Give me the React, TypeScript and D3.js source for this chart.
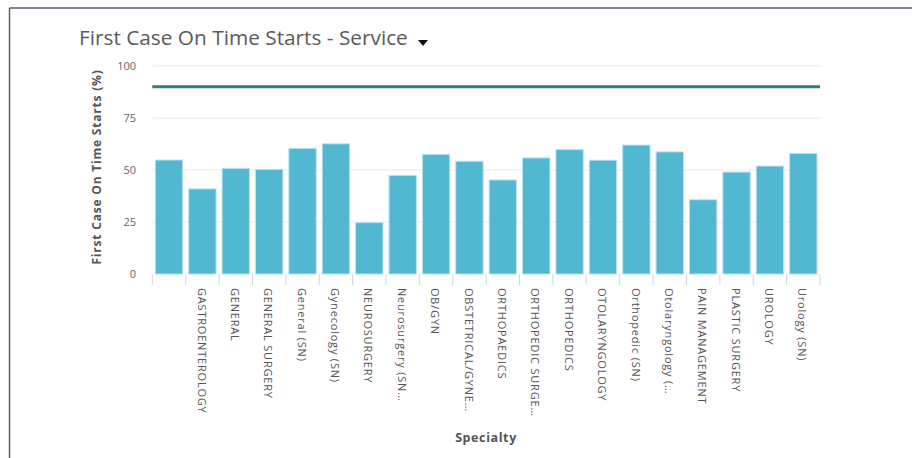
import React from "react";
import * as d3 from "d3";

const categories: string[] = [
  "",
  "GASTROENTEROLOGY",
  "GENERAL",
  "GENERAL SURGERY",
  "General (SN)",
  "Gynecology (SN)",
  "NEUROSURGERY",
  "Neurosurgery (SN…",
  "OB/GYN",
  "OBSTETRICAL/GYNE…",
  "ORTHOPAEDICS",
  "ORTHOPEDIC SURGE…",
  "ORTHOPEDICS",
  "OTOLARYNGOLOGY",
  "Orthopedic (SN)",
  "Otolaryngology (…",
  "PAIN MANAGEMENT",
  "PLASTIC SURGERY",
  "UROLOGY",
  "Urology (SN)",
];

const values: number[] = [
  54.8, 40.9, 50.8, 50.3, 60.4, 62.6, 24.7, 47.4, 57.5, 54.2, 45.2, 55.8, 59.8,
  54.7, 62.0, 58.7, 35.7, 49.0, 51.9, 58.0,
];

const target = 90;
const yTicks: number[] = [0, 25, 50, 75, 100];

const W = 912;
const H = 458;
const plot = { left: 152.3, right: 820, top: 66, bottom: 274 };
const FONT = "'Open Sans', 'DejaVu Sans', sans-serif";

export default function App() {
  const x = d3
    .scaleBand<number>()
    .domain(d3.range(categories.length))
    .range([plot.left, plot.right])
    .paddingInner(0.18)
    .paddingOuter(0.09);
  const xOuter = d3
    .scaleBand<number>()
    .domain(d3.range(categories.length))
    .range([plot.left, plot.right]);
  const y = d3.scaleLinear().domain([0, 100]).range([plot.bottom, plot.top]);

  const boundaries = d3.range(categories.length + 1).map(
    (i) => plot.left + i * xOuter.step()
  );

  return (
    <svg
      width={W}
      height={H}
      style={{ position: "absolute", left: 0, top: 0, background: "#fff" }}
    >
      {/* card border */}
      <line x1={9.5} y1={8} x2={W} y2={8} stroke="#4d5c6b" strokeWidth={1.6} />
      <line x1={9.5} y1={8} x2={9.5} y2={H} stroke="#4d5c6b" strokeWidth={1.4} />

      {/* title */}
      <text
        x={79}
        y={45}
        fontFamily={FONT}
        fontSize={20.8}
        fill="#5a5a5a"
      >
        First Case On Time Starts - Service
      </text>
      <path d="M418,40 L428,40 L423,46 Z" fill="#111" />

      {/* gridlines */}
      {yTicks
        .filter((t) => t > 0)
        .map((t) => (
          <line
            key={"g" + t}
            x1={plot.left}
            x2={plot.right}
            y1={y(t)}
            y2={y(t)}
            stroke="#ebebeb"
            strokeWidth={1}
          />
        ))}

      {/* y tick labels */}
      {yTicks.map((t) => (
        <text
          key={"yt" + t}
          x={136}
          y={y(t)}
          dy="0.35em"
          textAnchor="end"
          fontFamily={FONT}
          fontSize={11}
          fill="#666"
        >
          {t}
        </text>
      ))}

      {/* y axis title */}
      <text
        transform={`translate(101, ${(plot.top + plot.bottom) / 2 - 3}) rotate(-90)`}
        textAnchor="middle"
        fontFamily={FONT}
        fontSize={12}
        fontWeight="bold"
        letterSpacing={0.8}
        fill="#555"
      >
        First Case On Time Starts (%)
      </text>

      {/* bars */}
      {values.map((v, i) => (
        <rect
          key={"b" + i}
          x={x(i)!}
          y={y(v)}
          width={x.bandwidth()}
          height={y(0) - y(v)}
          fill="#52b7d1"
          stroke="#b9e3ee"
          strokeWidth={1}
        />
      ))}

      {/* target line */}
      <line
        x1={plot.left}
        x2={plot.right}
        y1={y(target)}
        y2={y(target)}
        stroke="#2f7d79"
        strokeWidth={3}
      />

      {/* x ticks */}
      {boundaries.map((b, i) => (
        <line
          key={"xt" + i}
          x1={b}
          x2={b}
          y1={plot.bottom}
          y2={plot.bottom + 11}
          stroke="#d6d6d6"
          strokeWidth={1}
        />
      ))}

      {/* x labels */}
      {categories.map((c, i) => (
        <text
          key={"xl" + i}
          transform={`translate(${x(i)! + x.bandwidth() / 2 - 1}, 288) rotate(90)`}
          dy="0.35em"
          fontFamily={FONT}
          fontSize={11}
          letterSpacing={0.8}
          fill="#555"
        >
          {c}
        </text>
      ))}

      {/* x axis title */}
      <text
        x={486}
        y={442}
        textAnchor="middle"
        fontFamily={FONT}
        fontSize={12.5}
        fontWeight="bold"
        letterSpacing={0.6}
        fill="#555"
      >
        Specialty
      </text>
    </svg>
  );
}
